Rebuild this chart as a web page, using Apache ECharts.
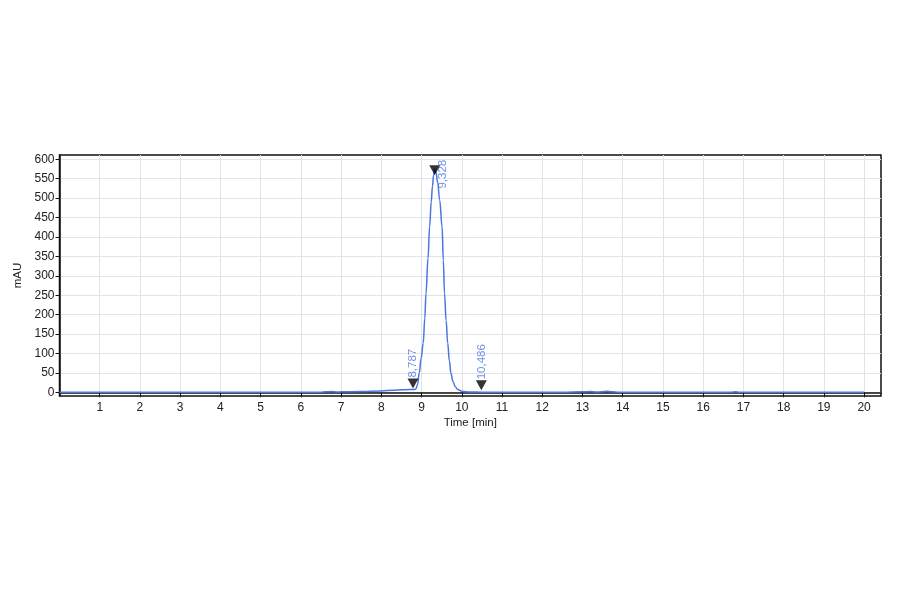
<!DOCTYPE html>
<html>
<head>
<meta charset="utf-8">
<script src="https://cdn.jsdelivr.net/npm/echarts@6/dist/echarts.min.js"></script>
<style>html,body{margin:0;padding:0;background:#fff}#c{width:900px;height:594px}</style>
</head>
<body>
<div id="c"></div>
<script>
// Chromatogram trace (time in min, signal in mAU)
const times = [0, 1, 2, 3, 4, 5, 6, 6.5, 6.6, 6.75, 6.9, 7.0, 7.5, 8.0, 8.3, 8.5, 8.7, 8.787, 8.83, 8.86, 8.90, 8.94, 8.99, 9.04, 9.08, 9.11, 9.16, 9.20, 9.24, 9.27, 9.30, 9.33, 9.36, 9.40, 9.45, 9.51, 9.54, 9.57, 9.61, 9.65, 9.69, 9.73, 9.78, 9.84, 9.90, 10.0, 10.2, 10.5, 11, 12, 12.5, 13.0, 13.2, 13.35, 13.6, 13.75, 13.9, 14.5, 16.7, 16.8, 16.9, 18, 20];
const signal = [0, 0, 0, 0, 0, 0, 0, 0.3, 1.5, 1.8, 1.0, 1.2, 2.0, 3.5, 5.5, 6.5, 7, 7, 7.5, 9, 20, 49, 88, 126, 190, 255, 345, 426, 490, 530, 560, 574, 565, 540, 495, 426, 340, 255, 185, 126, 82, 49, 28, 14, 7, 2.5, 1, 0.3, 0.2, 0.1, 0.3, 1.2, 2.2, 1.0, 2.5, 1.5, 0.3, 0.2, 0.2, 1.2, 0.2, 0.1, 0];

// Peak markers
const peakTimes = [8.787, 9.328, 10.486];
const peakLabels = ['8,787', '9,328', '10,486'];
const peakHeights = [7, 572, 0];

// Tick labels
const xTicks = [1,2,3,4,5,6,7,8,9,10,11,12,13,14,15,16,17,18,19,20];
const yTicks = [0,50,100,150,200,250,300,350,400,450,500,550,600];

const blue = '#4d74e0';
const trace = times.map((t, i) => [t, signal[i]]);

const markerData = peakTimes.map((t, i) => {
  const d = { value: [t, peakHeights[i]], label: { formatter: peakLabels[i] } };
  if (i === 1) {
    d.symbolOffset = [0, 0];
    d.label = { formatter: peakLabels[i], position: 'right', distance: 3, align: 'center', verticalAlign: 'middle', offset: [-4, 0] };
  } else if (i === 2) {
    d.symbolOffset = [0, -7];
  }
  return d;
});

const chart = echarts.init(document.getElementById('c'), null, { renderer: 'canvas' });
chart.setOption({
  animation: false,
  backgroundColor: '#fff',
  textStyle: { fontFamily: 'Liberation Sans, Arial, sans-serif' },
  grid: { left: 59.5, right: 19, top: 155, bottom: 198, show: true, borderColor: '#111', borderWidth: 1.5, backgroundColor: 'transparent' },
  xAxis: {
    type: 'value', min: 0, max: 20.42,
    name: 'Time [min]', nameLocation: 'middle', nameGap: 21,
    nameTextStyle: { color: '#222', fontSize: 11.5 },
    axisLine: { show: true, lineStyle: { color: '#111', width: 1.5 } },
    axisTick: { show: true, length: 5, customValues: xTicks, lineStyle: { color: '#111' } },
    axisLabel: { customValues: xTicks, color: '#222', fontSize: 12, margin: 6 },
    splitLine: { show: true, lineStyle: { color: '#e2e2ea', width: 1 } }
  },
  yAxis: {
    type: 'value', min: -9.5, max: 611,
    name: 'mAU', nameLocation: 'middle', nameGap: 32, nameRotate: 90,
    nameTextStyle: { color: '#222', fontSize: 11.5 },
    axisLine: { show: true, lineStyle: { color: '#111', width: 1.5 } },
    axisTick: { show: true, length: 4, customValues: yTicks, lineStyle: { color: '#111' } },
    axisLabel: { customValues: yTicks, color: '#222', fontSize: 12, margin: 5 },
    splitLine: { show: true, lineStyle: { color: '#e2e2ea', width: 1 } }
  },
  series: [
    {
      type: 'line', data: trace, showSymbol: false, smooth: 0.4, smoothMonotone: 'x',
      lineStyle: { color: blue, width: 1.5 }, z: 3
    },
    {
      type: 'scatter', data: markerData,
      symbol: 'triangle', symbolRotate: 180, symbolSize: [11, 10], symbolOffset: [0, -6],
      itemStyle: { color: '#000' }, z: 4,
      label: {
        show: true, rotate: 90, position: 'top', distance: 1,
        align: 'left', verticalAlign: 'middle',
        color: blue, fontSize: 11.5
      }
    }
  ]
});
</script>
</body>
</html>
